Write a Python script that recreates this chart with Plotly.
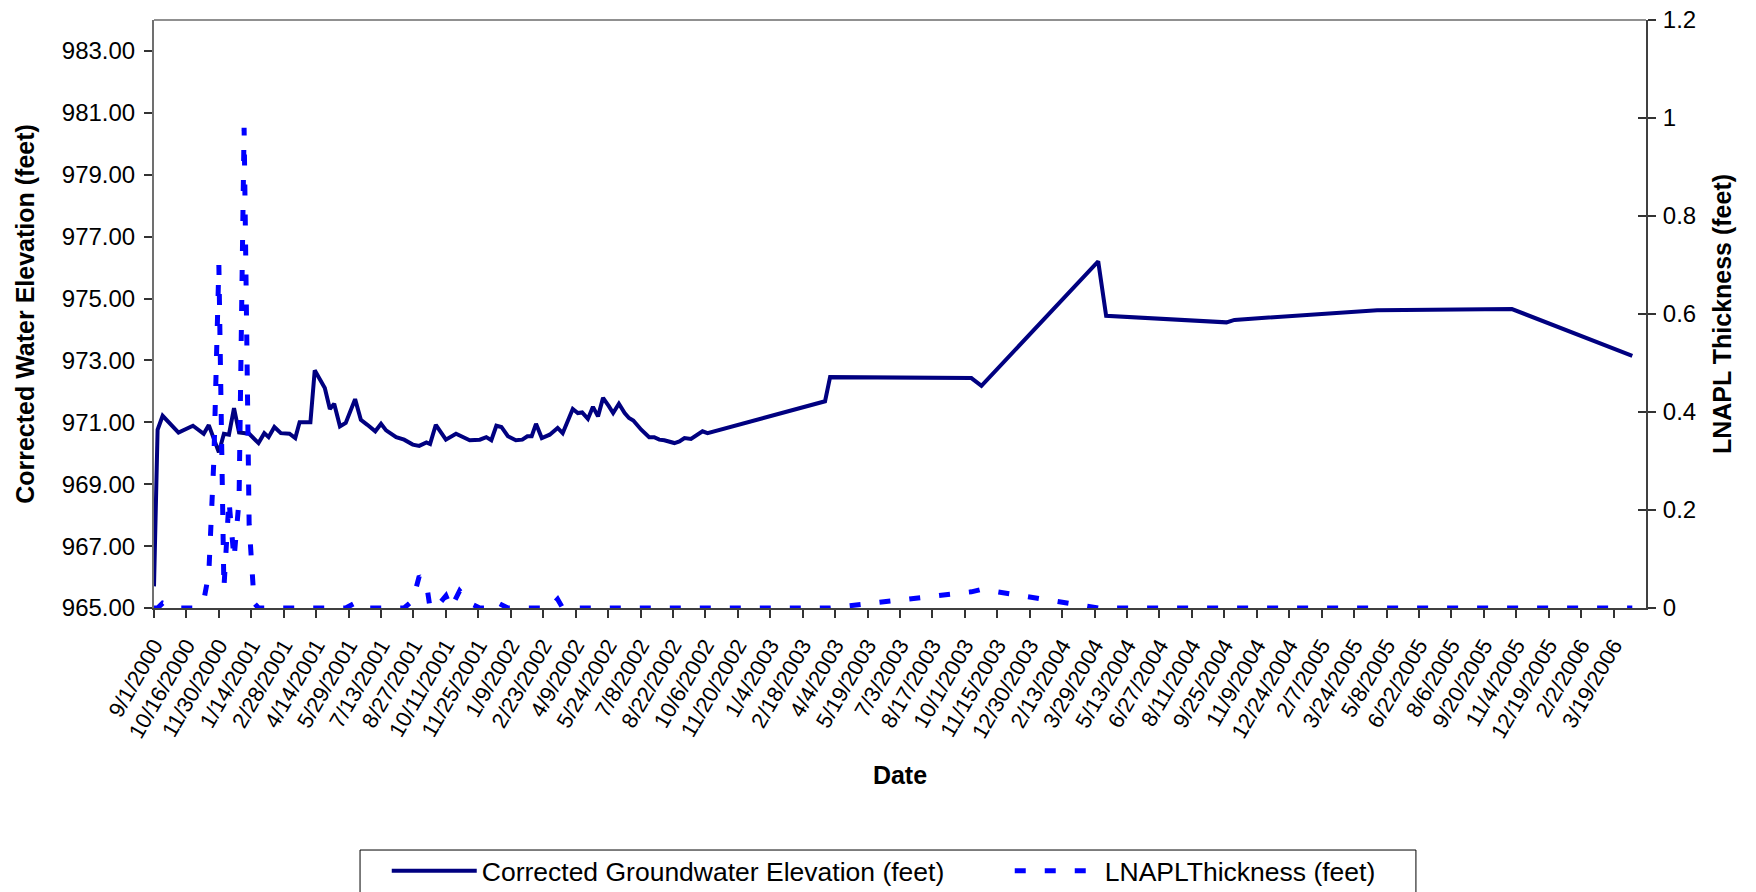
import pandas as pd
import plotly.graph_objects as go

# ---------------- data ----------------
ELEV_DATES = [
    "9/1/2000", "9/6/2000", "9/13/2000", "10/5/2000", "10/25/2000", "11/9/2000",
    "11/16/2000", "11/30/2000", "12/7/2000", "12/14/2000", "12/21/2000", "12/28/2000",
    "1/11/2001", "1/24/2001", "2/1/2001", "2/7/2001", "2/15/2001", "2/24/2001",
    "3/8/2001", "3/16/2001", "3/22/2001", "4/6/2001", "4/12/2001", "4/26/2001",
    "5/3/2001", "5/9/2001", "5/17/2001", "5/25/2001", "6/7/2001", "6/15/2001",
    "6/24/2001", "7/5/2001", "7/13/2001", "7/20/2001", "8/3/2001", "8/14/2001",
    "8/26/2001", "9/4/2001", "9/14/2001", "9/19/2001", "9/27/2001", "10/11/2001",
    "10/25/2001", "11/13/2001", "11/27/2001", "12/6/2001", "12/13/2001", "12/20/2001",
    "12/27/2001", "1/5/2002", "1/16/2002", "1/25/2002", "2/1/2002", "2/7/2002",
    "2/13/2002", "2/21/2002", "3/4/2002", "3/15/2002", "3/22/2002", "4/5/2002",
    "4/12/2002", "4/18/2002", "4/26/2002", "5/3/2002", "5/10/2002", "5/17/2002",
    "5/25/2002", "5/31/2002", "6/8/2002", "6/16/2002", "6/22/2002", "6/28/2002",
    "7/9/2002", "7/20/2002", "7/27/2002", "8/3/2002", "8/10/2002", "8/24/2002",
    "8/31/2002", "9/7/2002", "9/16/2002", "10/2/2002", "10/9/2002", "3/21/2003",
    "3/28/2003", "10/10/2003", "10/24/2003", "4/3/2004", "4/14/2004", "9/28/2004",
    "10/9/2004", "4/25/2005", "10/29/2005", "4/14/2006",
]
ELEV_FT = [
    965.70, 970.76, 971.21, 970.67, 970.89, 970.63,
    970.91, 970.03, 970.63, 970.60, 971.46, 970.67,
    970.63, 970.33, 970.65, 970.52, 970.85, 970.65,
    970.63, 970.49, 971.00, 971.00, 972.68, 972.11,
    971.43, 971.60, 970.87, 970.98, 971.75, 971.08,
    970.92, 970.71, 970.95, 970.74, 970.52, 970.44,
    970.28, 970.24, 970.35, 970.30, 970.92, 970.44,
    970.63, 970.42, 970.44, 970.52, 970.42, 970.89,
    970.85, 970.55, 970.42, 970.44, 970.55, 970.55,
    970.95, 970.49, 970.60, 970.82, 970.65, 971.43,
    971.30, 971.32, 971.11, 971.50, 971.19, 971.79,
    971.52, 971.30, 971.60, 971.30, 971.14, 971.06,
    970.76, 970.52, 970.52, 970.44, 970.42, 970.33,
    970.38, 970.49, 970.46, 970.71, 970.65, 971.68,
    972.46, 972.43, 972.18, 976.20, 974.44, 974.23,
    974.31, 974.62, 974.66, 973.15,
]

LNAPL_DATES = [
    "9/1/2000", "9/6/2000", "9/13/2000", "10/5/2000", "10/25/2000", "11/9/2000",
    "11/16/2000", "11/23/2000", "11/30/2000", "12/7/2000", "12/14/2000", "12/21/2000",
    "12/28/2000", "1/4/2001", "1/11/2001", "1/18/2001", "1/24/2001", "2/7/2001",
    "2/24/2001", "3/16/2001", "4/6/2001", "4/26/2001", "5/17/2001", "5/25/2001",
    "6/7/2001", "6/15/2001", "7/5/2001", "7/20/2001", "8/14/2001", "8/26/2001",
    "9/4/2001", "9/14/2001", "9/19/2001", "9/27/2001", "10/11/2001", "10/18/2001",
    "10/30/2001", "11/13/2001", "11/27/2001", "12/6/2001", "12/13/2001", "12/20/2001",
    "1/5/2002", "2/7/2002", "3/4/2002", "3/15/2002", "3/22/2002", "4/18/2002",
    "5/17/2002", "6/16/2002", "7/20/2002", "8/24/2002", "10/9/2002", "3/21/2003",
    "3/28/2003", "10/10/2003", "10/24/2003", "4/3/2004", "4/14/2004", "9/28/2004",
    "10/9/2004", "4/25/2005", "10/29/2005", "4/14/2006",
]
LNAPL_FT = [
    0.0, 0.0, 0.01, 0.0, 0.0, 0.015,
    0.07, 0.30, 0.70, 0.04, 0.22, 0.10,
    0.22, 0.98, 0.17, 0.01, 0.0, 0.0,
    0.0, 0.0, 0.0, 0.0, 0.0, 0.0,
    0.01, 0.0, 0.0, 0.0, 0.0, 0.015,
    0.065, 0.05, 0.0, 0.0, 0.025, 0.0,
    0.035, 0.01, 0.0, 0.0, 0.012, 0.012,
    0.0, 0.0, 0.0, 0.018, 0.0, 0.0,
    0.0, 0.0, 0.0, 0.0, 0.0, 0.0,
    0.0, 0.033, 0.038, 0.0, 0.0, 0.0,
    0.0, 0.0, 0.0, 0.0,
]

TICK_LABELS = [
    "9/1/2000", "10/16/2000", "11/30/2000", "1/14/2001", "2/28/2001", "4/14/2001",
    "5/29/2001", "7/13/2001", "8/27/2001", "10/11/2001", "11/25/2001", "1/9/2002",
    "2/23/2002", "4/9/2002", "5/24/2002", "7/8/2002", "8/22/2002", "10/6/2002",
    "11/20/2002", "1/4/2003", "2/18/2003", "4/4/2003", "5/19/2003", "7/3/2003",
    "8/17/2003", "10/1/2003", "11/15/2003", "12/30/2003", "2/13/2004", "3/29/2004",
    "5/13/2004", "6/27/2004", "8/11/2004", "9/25/2004", "11/9/2004", "12/24/2004",
    "2/7/2005", "3/24/2005", "5/8/2005", "6/22/2005", "8/6/2005", "9/20/2005",
    "11/4/2005", "12/19/2005", "2/2/2006", "3/19/2006",
]
X_RANGE = ["9/1/2000", "5/3/2006"]

Y_TICKS = [965, 967, 969, 971, 973, 975, 977, 979, 981, 983]
Y_RANGE = [965, 984]
Y2_TICKS = [0, 0.2, 0.4, 0.6, 0.8, 1.0, 1.2]
Y2_TICK_LABELS = ["0", "0.2", "0.4", "0.6", "0.8", "1", "1.2"]
Y2_RANGE = [0, 1.2]

SERIES_NAMES = ["Corrected Groundwater Elevation (feet)", "LNAPLThickness (feet)"]
Y_TITLE = "Corrected Water Elevation (feet)"
Y2_TITLE = "LNAPL Thickness (feet)"
X_TITLE = "Date"

FONT = "Liberation Sans, Arial, Helvetica, sans-serif"


def to_iso(lst):
    return list(pd.to_datetime(lst, format="%m/%d/%Y").strftime("%Y-%m-%d"))


elev_x = to_iso(ELEV_DATES)
lnapl_x = to_iso(LNAPL_DATES)
tick_x = to_iso(TICK_LABELS)
x_range = to_iso(X_RANGE)

fig = go.Figure()
fig.add_trace(go.Scatter(
    x=elev_x, y=ELEV_FT, mode="lines", name=SERIES_NAMES[0],
    line=dict(color="#000080", width=4), yaxis="y",
))
fig.add_trace(go.Scatter(
    x=lnapl_x, y=LNAPL_FT, mode="lines", name=SERIES_NAMES[1],
    line=dict(color="#0000FF", width=5, dash="11px,19px"), yaxis="y2",
))
# helper trace so the inside-tick overlay axis (crossing ticks) is drawn
fig.add_trace(go.Scatter(
    x=[lnapl_x[0]], y=[None], yaxis="y3", mode="lines",
    showlegend=False, hoverinfo="skip",
))

fig.update_layout(
    width=1756, height=892,
    margin=dict(l=154, r=110, t=20, b=284, autoexpand=False),
    paper_bgcolor="white", plot_bgcolor="white",
    font=dict(family=FONT, size=24, color="black"),
    xaxis=dict(
        type="date", range=x_range, tickmode="array", tickvals=tick_x,
        ticktext=TICK_LABELS, tickangle=-60, tickfont=dict(size=22),
        ticks="outside", ticklen=8, tickcolor="#333333", tickwidth=1.5,
        showline=True, linecolor="#404040", linewidth=2, ticklabelstandoff=6,
        showgrid=False, zeroline=False, automargin=False,
        ticklabeloverflow="allow",
        title=dict(text="<b>" + X_TITLE + "</b>", font=dict(size=25), standoff=25),
    ),
    yaxis=dict(
        range=Y_RANGE, tickmode="array", tickvals=Y_TICKS, tickformat=".2f",
        ticks="outside", ticklen=8, tickcolor="#333333", tickwidth=1.5,
        showline=True, linecolor="#707070", linewidth=2,
        showgrid=False, zeroline=False, ticklabelstandoff=4, automargin=False,
        ticklabeloverflow="allow",
        title=dict(text="<b>" + Y_TITLE + "</b>", font=dict(size=25), standoff=20),
    ),
    yaxis2=dict(
        overlaying="y", side="right", anchor="x", range=Y2_RANGE,
        tickmode="array", tickvals=Y2_TICKS, ticktext=Y2_TICK_LABELS,
        ticks="outside", ticklen=8, tickcolor="#333333", tickwidth=1.5,
        showline=True, linecolor="#404040", linewidth=2,
        showgrid=False, zeroline=False, ticklabelstandoff=2, automargin=False,
        ticklabeloverflow="allow",
        title=dict(text="<b>" + Y2_TITLE + "</b>", font=dict(size=25), standoff=18),
    ),
    yaxis3=dict(
        overlaying="y", side="right", anchor="x", range=Y2_RANGE,
        tickmode="array", tickvals=Y2_TICKS,
        ticks="inside", ticklen=8, tickcolor="#333333", tickwidth=1.5,
        showticklabels=False, showline=False, showgrid=False, zeroline=False,
        automargin=False,
    ),
    legend=dict(
        orientation="h", x=0.156, xanchor="left", y=-0.4065, yanchor="top",
        borderwidth=0, bgcolor="rgba(0,0,0,0)",
        font=dict(size=26.5), itemwidth=85, entrywidth=523, traceorder="normal",
    ),
    shapes=[
        # top frame line of the plot area
        dict(type="line", xref="paper", yref="paper", x0=0, x1=1, y0=1, y1=1,
             line=dict(color="#909090", width=2)),
        # legend frame
        dict(type="rect", xref="paper", yref="paper", x0=0.1381, x1=0.8458,
             y0=-0.4116, y1=-0.52, line=dict(color="black", width=1),
             fillcolor="rgba(0,0,0,0)", layer="below"),
    ],
    showlegend=True,
)

# remove the page's default body margin so the figure fills the window exactly
fig.write_html(
    "out.html",
    config={"displayModeBar": False},
    post_script="document.body.style.margin='0px';",
)
